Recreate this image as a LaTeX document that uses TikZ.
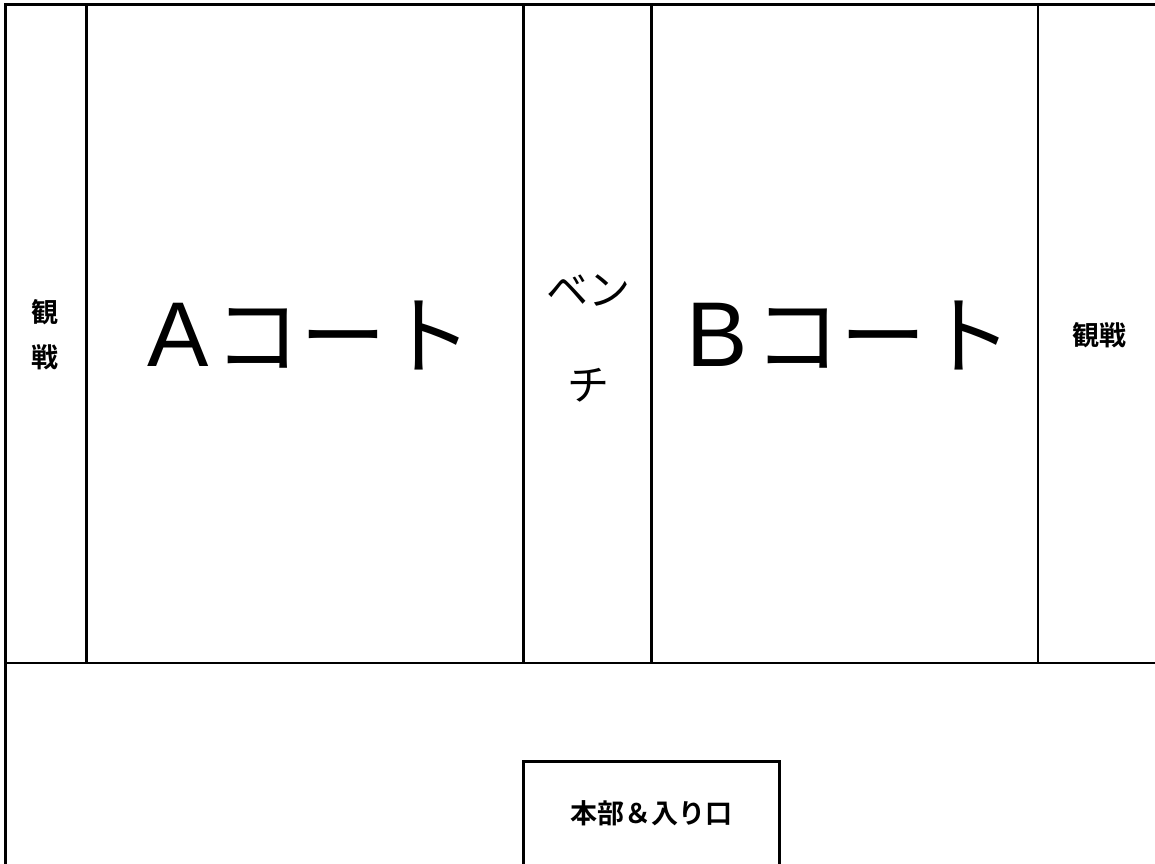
\documentclass[tikz,border=0pt]{standalone}
\usepackage{fontspec}
\newfontfamily\jp{Noto Sans CJK JP}
\newfontfamily\jpb{Noto Sans CJK JP Bold}
\newfontfamily\lat{Liberation Sans}
\begin{document}
\begin{tikzpicture}[x=1pt,y=-1pt,
  wall/.style={line width=2.7pt,line cap=rect},
  big/.style={font=\jp\fontsize{86}{86}\selectfont,inner sep=0pt,anchor=base west},
  letter/.style={font=\lat\fontsize{92}{92}\selectfont,inner sep=0pt,anchor=base west},
  small/.style={font=\jpb\fontsize{27}{45}\selectfont,inner sep=0pt,align=center}]
\useasboundingbox (0,0) rectangle (1155,863);
\fill[white] (0,0) rectangle (1155,863);
% coordinates
\coordinate (tl) at (5.5,4.7);
\coordinate (tr) at (1160,4.7);
\coordinate (bl) at (5.5,870);
\coordinate (ml) at (5.5,663);
\coordinate (mr) at (1160,663);
\draw[wall] (tr) -- (tl) -- (bl);
\draw[wall] (ml) -- (mr);
\foreach \x/\n in {86.5/a,523.5/b,651.5/c,1038/d}{
  \coordinate (\n1) at (\x,4.7);
  \coordinate (\n2) at (\x,663);
  \draw[wall] (\n1) -- (\n2);
}
% headquarters box
\coordinate (h1) at (523.5,870);
\coordinate (h2) at (523.5,761.3);
\coordinate (h3) at (779.5,761.3);
\coordinate (h4) at (779.5,870);
\draw[wall] (h1) -- (h2) -- (h3) -- (h4);
% texts
\node[small] (kl) at (45,335) {観\\戦};
\node[letter] (al) at (147,366) {A};
\node[big] (ac) at (214,367) {コート};
\node[font=\jp\fontsize{42}{95}\selectfont,inner sep=0pt,align=center] (bench) at (588,338) {ベン\\チ};
\node[letter] (bl2) at (686,366) {B};
\node[big] (bc) at (754,367) {コート};
\node[font=\jpb\fontsize{27}{27}\selectfont,inner sep=0pt] (kr) at (1099,335) {観戦};
\node[font=\jpb\fontsize{27}{27}\selectfont,inner sep=0pt] (hq) at (651,813) {本部＆入り口};
\end{tikzpicture}
\end{document}
